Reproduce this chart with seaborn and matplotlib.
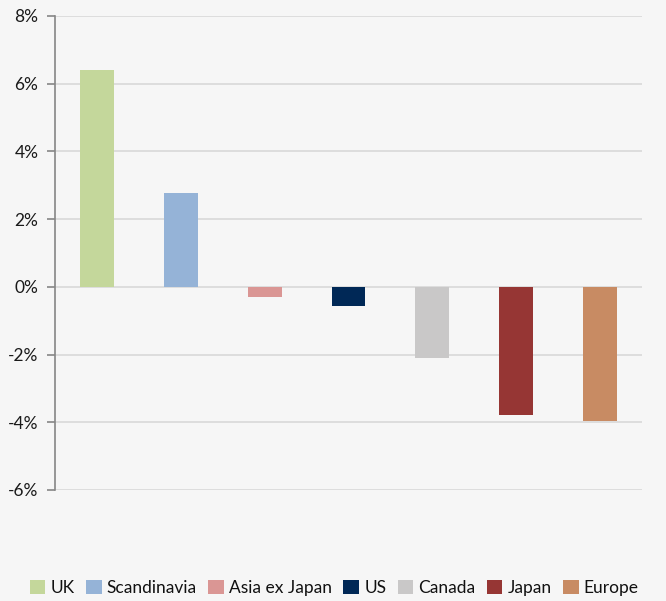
import matplotlib
matplotlib.use("Agg")
import matplotlib.pyplot as plt
import seaborn as sns
import pandas as pd
from matplotlib.ticker import FuncFormatter

regions = ["UK", "Scandinavia", "Asia ex Japan", "US", "Canada", "Japan", "Europe"]
values = [6.41, 2.78, -0.29, -0.58, -2.10, -3.78, -3.95]
colors = ["#c4d79b", "#95b3d7", "#da9694", "#002856", "#c9c8c8", "#963634", "#c88b63"]
yticks = [-6, -4, -2, 0, 2, 4, 6, 8]

bg = "#f6f6f6"
sns.set_theme(style="white")
plt.rcParams['font.family'] = ['Lato', 'DejaVu Sans']

df = pd.DataFrame({"region": regions, "value": values})

fig = plt.figure(figsize=(6.66, 6.01), dpi=100, facecolor=bg)
ax = fig.add_axes([0.0826, 0.1847, 0.964 - 0.0826, 0.9734 - 0.1847])
ax.set_facecolor(bg)

sns.barplot(data=df, x="region", y="value", hue="region", palette=colors,
            order=regions, hue_order=regions, dodge=False, width=0.405,
            saturation=1, ax=ax, legend=True, linewidth=0, edgecolor="none")

ax.set_ylim(-6, 8)
ax.set_yticks(yticks)
ax.yaxis.set_major_formatter(FuncFormatter(lambda v, p: f"{int(v)}%"))
ax.set_xlim(-0.5, len(regions) - 0.5)
ax.set_xticks([])
ax.set_xlabel("")
ax.set_ylabel("")
ax.grid(axis="y", color="#d9d9d9", linewidth=1.2, zorder=0)
ax.set_axisbelow(True)
for s in ["top", "right", "bottom"]:
    ax.spines[s].set_visible(False)
ax.spines["left"].set_color("#868686")
ax.spines["left"].set_linewidth(1.2)
ax.tick_params(axis="y", which="both", left=True, length=6, width=1.2,
               color="#868686", labelsize=12.5, labelcolor="#1a1a1a", pad=6)

handles, labels = ax.get_legend_handles_labels()
ax.legend_.remove()
fig.legend(handles, labels, loc="center", bbox_to_anchor=(0.502, 0.022),
           ncol=7, frameon=False, fontsize=12.5, handlelength=0.9,
           handleheight=0.9, handletextpad=0.3, columnspacing=0.65,
           labelcolor="#111111")

fig.savefig("out.png", dpi=100, facecolor=bg)
